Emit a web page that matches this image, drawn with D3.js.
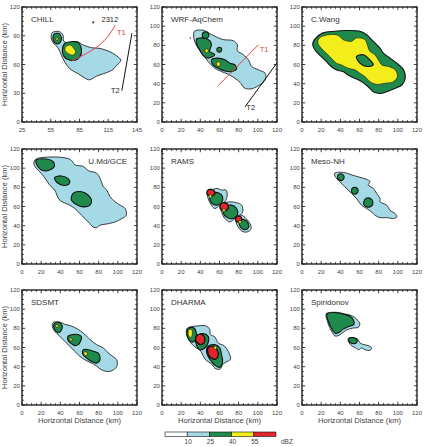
<!DOCTYPE html>
<html>
<head>
<meta charset="utf-8">
<script src="https://cdn.jsdelivr.net/npm/d3@7"></script>
<style>
  body { margin: 0; background: #fff; }
  svg { display: block; }
  text { font-family: "Liberation Sans", Arial, sans-serif; }
</style>
</head>
<body>
<svg id="chart" width="426" height="447"></svg>
<script>
// reflectivity levels (dBZ bins) and colours
const levelColors = { lb: '#a6d9e6', gr: '#1f8a4b', ye: '#f3ed1b', re: '#e2252b' };
const legendBreaks = [10, 25, 40, 55];
const legendBins = [[-5, 10, '#ffffff'], [10, 25, '#a6d9e6'], [25, 40, '#1f8a4b'], [40, 55, '#f3ed1b'], [55, 70, '#e2252b']];

const panelNames = ['CHILL', 'WRF-AqChem', 'C.Wang', 'U.Md/GCE', 'RAMS', 'Meso-NH', 'SDSMT', 'DHARMA', 'Spiridonov'];
const ticks20 = [0, 20, 40, 60, 80, 100, 120];
const chillXTicks = [25, 55, 85, 115, 145];
const chillYTicks = [0, 30, 60, 90, 120];

// ---- CHILL (x 25-145 km)
const chillBlue = [[56.6,93.3],[63.6,94.4],[67.8,90.8],[68.5,84.5],[74.8,82.0],[82.5,83.8],[88.9,80.3],[97.6,77.5],[106.4,76.8],[116.9,73.2],[123.9,69.0],[128.2,64.4],[123.9,59.2],[118.7,53.9],[109.9,50.4],[102.9,47.9],[95.2,44.0],[90.6,45.8],[83.6,50.4],[74.8,55.6],[69.6,62.7],[66.1,69.7],[62.5,77.5],[58.0,82.0],[55.5,88.0]];
const chillGreenA = [[58.3,91.5],[63.6,92.3],[66.1,88.0],[65.0,83.1],[60.8,81.7],[57.6,85.2]];
const chillYellowA = [[60.8,88.4],[62.5,87.7],[62.2,85.2],[60.8,84.9]];
const chillGreenB = [[69.6,82.0],[76.6,83.8],[83.6,83.1],[86.4,78.5],[87.1,73.2],[85.4,68.0],[80.1,64.4],[73.1,65.1],[68.5,69.0],[67.1,75.0]];
const chillYellowB = [[70.6,78.5],[75.5,80.3],[79.0,76.8],[81.1,73.2],[78.3,69.7],[73.1,71.5],[69.9,75.0]];
const chillT1 = [[76.6,63.4],[85.4,68.0],[95.9,73.2],[106.4,80.3],[115.2,89.1],[122.2,100.7]];
const chillT2 = [[129.2,32.7],[139.7,92.6]];

// ---- WRF-AqChem
const wrfBlue = [[34.0,94.7],[42.8,95.8],[51.6,91.2],[63.9,86.0],[74.4,84.9],[78.6,80.7],[78.6,74.4],[84.9,70.2],[90.2,64.9],[93.7,57.9],[100.7,54.4],[107.7,50.9],[107.7,43.9],[100.7,37.9],[91.9,34.4],[85.6,35.8],[81.4,41.4],[76.1,45.6],[69.1,49.8],[62.1,52.6],[55.1,56.1],[48.1,63.2],[42.8,70.2],[37.5,77.2],[34.0,84.2],[33.0,90.5]];
const wrfGreenA = [[35.8,86.0],[42.8,87.7],[49.8,84.9],[51.6,80.7],[49.8,73.7],[55.1,70.2],[48.1,66.7],[42.8,69.5],[39.3,75.4],[36.5,80.7]];
const wrfGreenB = [[42.0,91.5],[44.0,93.8],[47.5,93.6],[49.0,90.5],[47.0,87.6],[43.5,87.8]];
const wrfGreenC = [[57.3,76.2],[58.9,77.8],[61.5,77.5],[62.2,75.0],[60.5,73.1],[58.0,73.5]];
const wrfGreenD = [[51.6,64.9],[58.6,66.7],[65.6,64.9],[70.9,61.4],[76.1,59.6],[77.9,55.4],[72.6,52.6],[65.6,53.3],[58.6,56.1],[53.3,59.6]];
const wrfYellowA = [[45.0,75.5],[47.0,76.5],[48.3,74.5],[47.2,72.3],[45.3,72.8]];
const wrfYellowB = [[57.0,61.8],[59.5,62.8],[60.8,60.5],[59.5,58.0],[57.4,58.8]];
const wrfT1 = [[58.6,37.9],[100.7,80.7]];
const wrfT2 = [[86.7,15.8],[122,64.5]];

// ---- C.Wang
const wangGreen = [[13.0,86.0],[21.8,93.0],[34.0,94.7],[46.3,95.4],[60.4,94.7],[67.4,91.2],[72.6,86.0],[77.9,80.7],[81.4,77.2],[84.9,71.9],[91.9,66.7],[98.9,61.4],[106.0,54.4],[107.7,45.6],[104.2,38.6],[97.2,35.1],[88.4,31.6],[81.4,29.8],[74.4,31.6],[69.1,36.8],[62.1,42.1],[55.1,45.6],[48.1,49.1],[42.8,52.6],[35.8,54.4],[30.5,57.9],[25.3,63.2],[20.0,68.4],[14.7,73.7],[11.2,80.7]];
const wangYellow = [[18.2,87.7],[28.8,91.2],[37.5,90.5],[42.8,86.0],[51.6,84.2],[56.8,87.7],[65.6,86.0],[68.1,80.7],[70.9,73.7],[76.1,70.2],[79.6,64.9],[83.2,59.6],[90.2,57.9],[97.2,54.4],[99.6,47.4],[95.4,42.1],[86.7,40.4],[77.9,39.3],[70.9,42.1],[65.6,47.4],[60.4,50.9],[55.1,54.4],[48.1,56.1],[41.1,59.6],[35.8,61.4],[32.3,64.9],[28.8,68.4],[25.3,71.9],[20.0,77.2],[16.5,82.5]];
const wangGreenHole = [[56.8,68.4],[63.9,70.2],[70.9,64.9],[74.4,59.6],[67.4,57.9],[60.4,61.4]];

// ---- U.Md/GCE
const gceBlue = [[14.7,109.5],[28.8,111.6],[46.3,110.5],[51.6,108.1],[55.1,103.5],[63.9,101.8],[69.1,97.5],[77.9,94.7],[81.4,89.5],[84.9,80.7],[88.4,77.2],[91.9,70.2],[97.2,64.9],[102.5,61.4],[107.7,57.9],[108.8,50.9],[104.2,47.4],[97.2,43.9],[90.2,42.1],[81.4,40.4],[77.9,37.9],[74.4,38.6],[69.1,43.9],[62.1,50.9],[55.1,57.9],[49.8,61.4],[39.3,66.7],[34.0,77.2],[28.8,82.5],[25.3,87.7],[20.0,94.7],[14.7,100.0],[12.3,105.3]];
const gceGreenA = [[14.7,108.1],[25.3,109.5],[32.3,107.0],[34.0,102.5],[28.8,98.2],[21.8,97.5],[16.5,101.8]];
const gceGreenB = [[34.0,90.2],[41.1,91.9],[48.1,89.1],[49.8,84.9],[46.3,82.1],[39.3,83.2],[35.1,86.7]];
const gceGreenC = [[53.3,73.7],[62.1,75.4],[69.1,71.9],[72.6,66.7],[70.9,61.4],[63.9,59.6],[56.8,62.1],[51.6,66.7]];

// ---- RAMS
const ramsBlueA = [[51.6,77.2],[57.5,78.9],[62.1,77.2],[66.7,77.2],[68.1,71.9],[65.6,64.9],[60.4,61.4],[55.1,57.9],[51.6,61.4],[48.1,68.4],[47.4,74.4]];
const ramsGreenA = [[51.6,73.0],[58.6,74.4],[63.2,70.2],[62.1,63.9],[56.8,61.4],[51.6,63.9],[49.8,68.4]];
const ramsRedA = [[47.4,76.5],[51.6,77.9],[55.1,75.4],[54.0,71.9],[49.8,70.9],[47.0,73.0]];
const ramsYellowA = [[49.4,72.0],[51.2,72.4],[51.8,70.6],[50.8,69.0],[49.3,69.7]];
const ramsBlueB = [[63.9,63.2],[70.9,64.9],[77.9,63.9],[83.2,61.4],[84.2,54.4],[81.4,50.9],[76.1,47.4],[70.9,43.9],[65.6,47.4],[62.1,54.4],[60.4,59.6]];
const ramsGreenB = [[65.6,59.6],[72.6,61.4],[77.9,57.9],[78.6,50.9],[74.4,47.4],[68.1,48.4],[63.9,53.3]];
const ramsRedB = [[61.1,62.5],[65.6,63.9],[69.1,61.4],[68.1,56.8],[63.9,55.4],[61.1,57.9]];
const ramsYellowB = [[63.5,57.3],[65.3,57.6],[66.0,55.8],[65.0,54.3],[63.4,55.0]];
const ramsBlueC = [[77.9,49.8],[83.2,50.9],[87.7,47.4],[91.9,42.1],[93.0,36.8],[88.4,33.3],[83.2,34.4],[79.6,38.6],[77.2,43.9]];
const ramsGreenC = [[80.7,45.6],[85.6,46.3],[90.2,42.1],[90.2,37.9],[85.6,35.8],[81.4,39.3]];
const ramsRedC = [[77.2,49.1],[81.4,49.8],[83.2,46.3],[80.7,43.5],[77.2,44.9]];
const ramsYellowC = [[80.3,45.0],[82.1,45.3],[82.7,43.6],[81.8,42.3],[80.2,42.8]];

// ---- Meso-NH
const mesoBlue = [[34.0,94.7],[44.6,95.4],[51.6,93.0],[60.4,90.5],[67.4,88.4],[70.9,86.0],[69.1,82.5],[74.4,78.9],[77.9,73.7],[81.4,68.4],[81.4,64.9],[88.4,61.4],[91.9,56.1],[97.2,52.6],[98.9,49.1],[95.4,47.4],[88.4,48.4],[81.4,48.4],[76.1,50.9],[72.6,54.4],[67.4,57.9],[62.1,61.4],[56.8,68.4],[51.6,73.7],[44.6,80.7],[39.3,86.0],[35.1,90.5]];
const mesoGreenA = [[37.0,91.5],[39.0,93.8],[42.5,93.5],[44.0,90.5],[42.0,87.5],[38.5,87.6]];
const mesoGreenB = [[51.7,77.5],[53.6,79.8],[57.0,79.6],[58.6,76.5],[56.6,73.3],[53.0,73.5]];
const mesoGreenC = [[64.5,65.0],[67.0,68.5],[71.5,68.3],[74.0,64.5],[72.5,60.5],[67.5,59.6],[64.8,61.5]];

// ---- SDSMT
const sdsmtBlue = [[32.3,85.9],[39.3,86.6],[44.6,84.2],[51.6,82.4],[58.6,78.9],[65.6,73.6],[70.9,68.3],[77.9,63.0],[84.9,59.5],[88.4,56.0],[93.7,51.4],[98.9,47.2],[98.9,40.1],[95.4,36.6],[90.2,34.9],[83.2,36.6],[76.1,41.9],[70.9,44.4],[65.6,47.2],[60.4,50.7],[55.1,56.0],[49.8,61.3],[44.6,66.5],[39.3,71.8],[34.0,77.1],[31.6,82.4]];
const sdsmtGreenA = [[34.0,85.2],[39.3,85.9],[42.1,82.4],[41.1,78.2],[38.6,75.4],[35.1,77.1],[33.0,81.7]];
const sdsmtGreenB = [[48.1,71.8],[53.3,73.6],[58.6,73.6],[62.1,71.1],[61.1,66.5],[58.6,63.0],[55.1,62.0],[50.5,64.8],[47.7,68.3]];
const sdsmtGreenC = [[63.9,57.7],[69.1,57.7],[74.4,56.0],[79.6,54.2],[81.4,47.2],[77.9,43.7],[72.6,45.4],[67.4,48.9],[63.2,53.5]];
const sdsmtYellowA = [[35.2,83.3],[36.8,84.0],[37.9,82.6],[37.2,81.0],[35.5,81.3]];
const sdsmtYellowB = [[49.6,69.2],[51.2,69.9],[52.3,68.5],[51.6,66.9],[49.9,67.2]];
const sdsmtYellowC = [[64.6,54.8],[66.6,55.6],[68.1,53.8],[67.3,51.7],[65.0,52.0]];

// ---- DHARMA
const dharmaBlue = [[27.0,80.6],[35.8,82.4],[46.3,82.4],[49.8,78.9],[50.5,73.6],[55.1,71.1],[58.6,64.8],[64.6,62.0],[69.1,56.0],[71.6,47.9],[68.1,45.4],[63.9,43.0],[60.4,37.3],[55.1,38.4],[51.6,43.0],[46.3,46.5],[42.8,51.4],[40.0,57.0],[35.8,59.5],[31.6,63.0],[28.1,67.6],[26.0,72.5],[25.3,77.1]];
const dharmaGreenA = [[27.0,79.6],[33.0,80.6],[35.8,75.4],[35.1,68.3],[31.6,65.5],[28.1,68.3],[26.0,73.6]];
const dharmaYellowA = [[27.7,78.2],[30.9,78.9],[31.6,73.6],[29.8,70.1],[27.7,72.5]];
const dharmaGreenB = [[35.8,71.8],[42.8,74.6],[48.1,71.8],[48.1,64.8],[44.6,59.5],[39.3,57.7],[35.8,63.0]];
const dharmaRedB = [[36.5,72.5],[41.1,73.9],[44.6,70.1],[43.9,64.8],[40.4,63.0],[36.5,65.5],[35.1,69.0]];
const dharmaGreenC = [[48.1,61.3],[55.1,63.0],[60.4,59.5],[62.1,52.5],[63.2,45.4],[60.4,39.4],[56.1,40.8],[51.6,45.4],[48.1,50.7],[46.3,56.0]];
const dharmaRedC = [[48.1,59.5],[53.3,61.3],[57.5,57.7],[58.6,51.4],[56.1,47.9],[51.6,48.9],[48.1,53.5]];
const dharmaYellowC = [[54.3,61.0],[56.1,61.4],[57.0,59.8],[56.1,58.2],[54.4,58.7]];

// ---- Spiridonov
const spirBlueA = [[25.3,95.1],[34.0,96.8],[44.6,95.1],[51.6,93.3],[56.8,89.8],[60.4,84.5],[58.6,81.0],[53.3,80.3],[46.3,78.2],[42.8,75.7],[37.5,72.2],[34.0,72.2],[31.6,75.7],[28.8,81.0],[26.3,88.0]];
const spirGreenA = [[26.0,95.1],[34.0,96.5],[44.6,94.4],[50.5,92.3],[54.0,88.0],[54.0,83.8],[48.1,81.7],[42.8,79.2],[38.6,75.7],[35.1,74.6],[32.3,77.5],[29.5,82.7],[27.0,88.7]];
const spirBlueB = [[48.1,69.4],[53.3,70.4],[58.6,68.3],[60.4,64.8],[64.6,63.0],[69.1,62.0],[72.6,59.5],[70.9,57.0],[65.6,57.7],[62.1,59.5],[59.6,57.7],[56.1,59.5],[52.6,61.3],[49.1,64.8]];
const spirGreenB = [[49.1,69.4],[54.0,70.1],[57.5,67.6],[56.8,64.8],[52.6,64.1],[49.1,66.5]];

// layers per panel, drawn in order
const panelShapes = [
  [['lb', chillBlue], ['gr', chillGreenA], ['ye', chillYellowA], ['gr', chillGreenB], ['ye', chillYellowB]],
  [['lb', wrfBlue], ['gr', wrfGreenA], ['gr', wrfGreenB], ['gr', wrfGreenC], ['gr', wrfGreenD], ['ye', wrfYellowA], ['ye', wrfYellowB]],
  [['gr', wangGreen], ['ye', wangYellow], ['gr', wangGreenHole]],
  [['lb', gceBlue], ['gr', gceGreenA], ['gr', gceGreenB], ['gr', gceGreenC]],
  [['lb', ramsBlueA], ['gr', ramsGreenA], ['re', ramsRedA], ['ye', ramsYellowA],
   ['lb', ramsBlueB], ['gr', ramsGreenB], ['re', ramsRedB], ['ye', ramsYellowB],
   ['lb', ramsBlueC], ['gr', ramsGreenC], ['re', ramsRedC], ['ye', ramsYellowC]],
  [['lb', mesoBlue], ['gr', mesoGreenA], ['gr', mesoGreenB], ['gr', mesoGreenC]],
  [['lb', sdsmtBlue], ['gr', sdsmtGreenA], ['gr', sdsmtGreenB], ['gr', sdsmtGreenC], ['ye', sdsmtYellowA], ['ye', sdsmtYellowB], ['ye', sdsmtYellowC]],
  [['lb', dharmaBlue], ['gr', dharmaGreenA], ['ye', dharmaYellowA], ['gr', dharmaGreenB], ['re', dharmaRedB], ['gr', dharmaGreenC], ['re', dharmaRedC], ['ye', dharmaYellowC]],
  [['lb', spirBlueA], ['gr', spirGreenA], ['lb', spirBlueB], ['gr', spirGreenB]]
];

const strokeW = { lb: 0.8, gr: 1.1, ye: 0.6, re: 1.3 };

const svg = d3.select('#chart');
const colX = [22, 162, 302], rowY = [7, 149, 290];
const W = 115, H = 115;
const axisTitle = 'Horizontal Distance (km)';

panelNames.forEach((name, i) => {
  const col = i % 3, row = Math.floor(i / 3);
  const isChill = i === 0;
  const x = d3.scaleLinear().domain(isChill ? [25, 145] : [0, 120]).range([0, W]);
  const y = d3.scaleLinear().domain([0, 120]).range([H, 0]);
  const g = svg.append('g').attr('transform', `translate(${colX[col]},${rowY[row]})`);

  g.append('clipPath').attr('id', 'clip' + i)
    .append('rect').attr('width', W).attr('height', H);
  const plot = g.append('g').attr('clip-path', `url(#clip${i})`);

  const shape = d3.line().x(d => x(d[0])).y(d => y(d[1]))
    .curve(d3.curveCatmullRomClosed.alpha(0.5));

  plot.selectAll('path.cell')
    .data(panelShapes[i])
    .join('path')
    .attr('class', 'cell')
    .attr('d', d => shape(d[1]))
    .attr('fill', d => levelColors[d[0]])
    .attr('stroke', '#111')
    .attr('stroke-width', d => strokeW[d[0]])
    .attr('stroke-linejoin', 'round');

  const seg = d3.line().x(d => x(d[0])).y(d => y(d[1]));
  const seg2 = d3.line().x(d => x(d[0])).y(d => y(d[1])).curve(d3.curveBasis);

  // cross-section lines
  if (i === 0) {
    plot.append('path').attr('d', seg2(chillT1)).attr('fill', 'none').attr('stroke', '#e5404a').attr('stroke-width', 1);
    plot.append('path').attr('d', seg(chillT2)).attr('fill', 'none').attr('stroke', '#111').attr('stroke-width', 1);
    plot.append('text').attr('x', x(124)).attr('y', y(91)).attr('fill', '#e5404a').style('font-size', '7.5px').text('T1');
    plot.append('text').attr('x', x(127)).attr('y', y(30)).attr('text-anchor', 'end').attr('fill', '#222').style('font-size', '7.5px').text('T2');
    plot.append('path').attr('d', d3.symbol(d3.symbolStar, 3)())
      .attr('transform', `translate(${x(99.4)},${y(104)})`).attr('fill', '#222');
    plot.append('text').attr('x', x(108)).attr('y', y(104.5)).attr('fill', '#222').style('font-size', '7.5px').text('2312');
  }
  if (i === 1) {
    plot.append('path').attr('d', seg(wrfT1)).attr('fill', 'none').attr('stroke', '#e5404a').attr('stroke-width', 1);
    plot.append('path').attr('d', seg(wrfT2)).attr('fill', 'none').attr('stroke', '#111').attr('stroke-width', 1);
    plot.append('text').attr('x', x(102)).attr('y', y(73.5)).attr('fill', '#e5404a').style('font-size', '7.5px').text('T1');
    plot.append('text').attr('x', x(88)).attr('y', y(12.5)).attr('fill', '#222').style('font-size', '7.5px').text('T2');
    plot.append('circle').attr('cx', x(29.5)).attr('cy', y(87.7)).attr('r', 0.7).attr('fill', '#222');
  }

  // frame
  g.append('rect').attr('width', W).attr('height', H)
    .attr('fill', 'none').attr('stroke', '#111').attr('stroke-width', 1.3);

  // inward ticks on all sides
  const xMajor = isChill ? chillXTicks : ticks20;
  const yMajor = isChill ? chillYTicks : ticks20;
  const xMinor = d3.range(x.domain()[0], x.domain()[1] + 1, 5);
  const yMinor = d3.range(0, 121, 5);
  const tk = g.append('g').attr('stroke', '#111').attr('stroke-width', 0.8);
  xMinor.forEach(v => {
    const len = xMajor.includes(v) ? 3.2 : 1.8;
    tk.append('line').attr('x1', x(v)).attr('x2', x(v)).attr('y1', H).attr('y2', H - len);
    tk.append('line').attr('x1', x(v)).attr('x2', x(v)).attr('y1', 0).attr('y2', len);
  });
  yMinor.forEach(v => {
    const len = yMajor.includes(v) ? 3.2 : 1.8;
    tk.append('line').attr('y1', y(v)).attr('y2', y(v)).attr('x1', 0).attr('x2', len);
    tk.append('line').attr('y1', y(v)).attr('y2', y(v)).attr('x1', W).attr('x2', W - len);
  });

  // tick labels
  g.selectAll('text.xl').data(xMajor).join('text').attr('class', 'xl')
    .attr('x', d => x(d)).attr('y', H + 9.5).attr('text-anchor', 'middle')
    .attr('fill', '#444').style('font-size', '6px').text(d => d);
  g.selectAll('text.yl').data(yMajor).join('text').attr('class', 'yl')
    .attr('x', -2.2).attr('y', d => y(d) + 2.1).attr('text-anchor', 'end')
    .attr('fill', '#444').style('font-size', '6px').text(d => d);

  // panel label
  const right = name === 'U.Md/GCE';
  g.append('text')
    .attr('x', right ? W - 10 : 9).attr('y', 14.5)
    .attr('text-anchor', right ? 'end' : 'start')
    .attr('fill', '#333').style('font-size', '8px').text(name);

  if (col === 0) {
    g.append('text').attr('transform', `translate(-15,${H / 2}) rotate(-90)`)
      .attr('text-anchor', 'middle').attr('fill', '#444').style('font-size', '7.6px').text(axisTitle);
  }
  if (row === 2) {
    g.append('text').attr('x', W / 2).attr('y', H + 17.5)
      .attr('text-anchor', 'middle').attr('fill', '#444').style('font-size', '7.6px').text(axisTitle);
  }
});

// colour bar
const lx = d3.scaleLinear().domain([-5, 70]).range([165, 276]);
const legend = svg.append('g').attr('class', 'legend');
legend.selectAll('rect')
  .data(legendBins)
  .join('rect')
  .attr('x', d => lx(d[0])).attr('width', d => lx(d[1]) - lx(d[0]))
  .attr('y', 432).attr('height', 4.5)
  .attr('fill', d => d[2]).attr('stroke', '#111').attr('stroke-width', 0.6);
legend.selectAll('text.lb')
  .data(legendBreaks)
  .join('text').attr('class', 'lb')
  .attr('x', d => lx(d) + 1).attr('y', 444).attr('text-anchor', 'middle')
  .attr('fill', '#444').style('font-size', '6.5px').text(d => d);
legend.append('text').attr('x', 281).attr('y', 444)
  .attr('fill', '#444').style('font-size', '6.5px').text('dBZ');
</script>
</body>
</html>
